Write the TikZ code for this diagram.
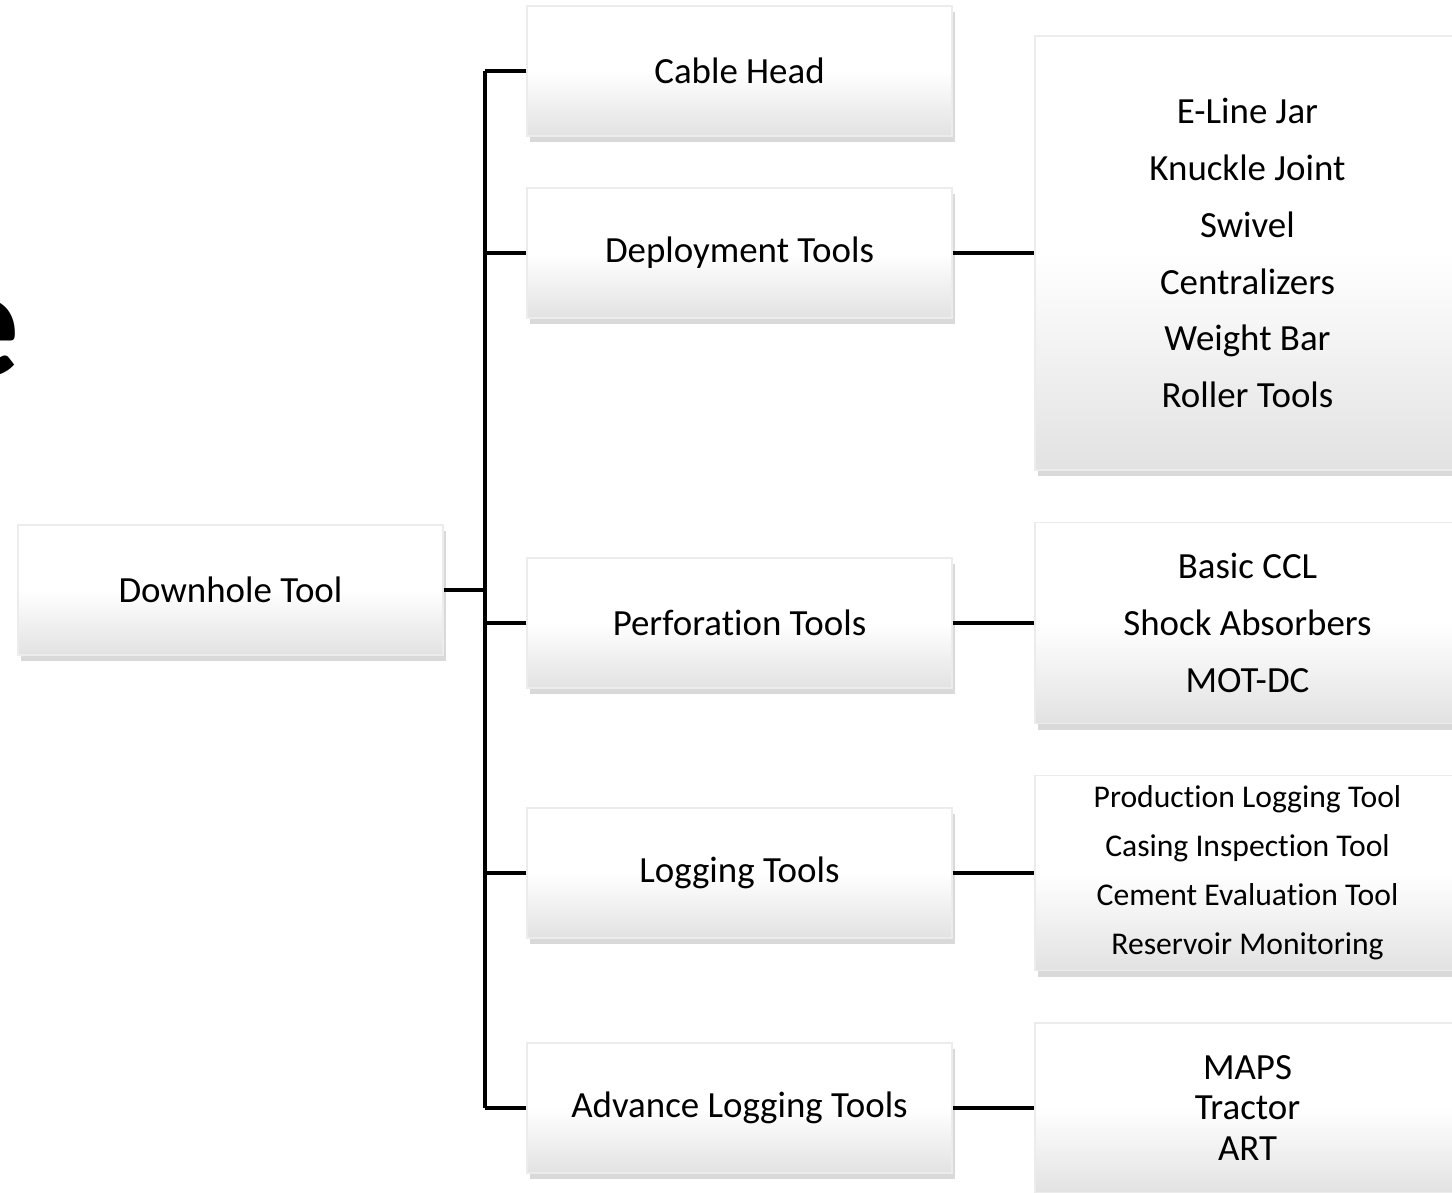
\documentclass[tikz,border=0pt]{standalone}
\usepackage{fontspec}
\setmainfont{Carlito}[Ligatures=NoCommon, Contextuals=NoAlternate]
\usetikzlibrary{shadows, positioning}
\definecolor{boxlow}{RGB}{226, 226, 226}
\definecolor{boxedge}{RGB}{236, 236, 236}
\definecolor{link}{RGB}{0, 0, 0}

\begin{document}
\begin{tikzpicture}[
    box/.style={rectangle, minimum width=4.25cm, minimum height=1.3cm, inner sep=0pt,
      draw=boxedge, top color=white, bottom color=boxlow, middle color=white, align=center,
      drop shadow={shadow xshift=0.03cm, shadow yshift=-0.06cm, opacity=0.3},
      font=\fontsize{10.5}{16.2}\selectfont},
    small/.style={font=\fontsize{9}{13.9}\selectfont},
    wire/.style={draw=link, line width=0.9pt}]

  \useasboundingbox (0, 0) rectangle (14.52, -11.92);
  \clip (0, 0) rectangle (14.52, -11.92);

  % left edge of the slide title
  \node[anchor=base east, inner sep=0pt, font=\bfseries\fontsize{45}{45}\selectfont]
    (title) at (0.21, -3.76) {e};

  \node[box] (downhole) at (2.305, -5.90) {Downhole Tool};

  \node[box] (cable)   at (7.395, -0.71) {Cable Head};
  \node[box] (deploy)  at (7.395, -2.53) {Deployment Tools};
  \node[box] (perf)    at (7.395, -6.23) {Perforation Tools};
  \node[box] (logging) at (7.395, -8.73) {Logging Tools};
  \node[box] (advance) at (7.395, -11.08) {Advance Logging Tools};

  \node[box, minimum height=4.34cm] (deploylist) at (12.475, -2.53)
    {E-Line Jar\\Knuckle Joint\\Swivel\\Centralizers\\Weight Bar\\Roller Tools};
  \node[box, minimum height=2.01cm] (perflist) at (12.475, -6.23)
    {Basic CCL\\Shock Absorbers\\MOT-DC};
  \node[box, small, minimum height=1.95cm] (logginglist) at (12.475, -8.73)
    {Production Logging Tool\\Casing Inspection Tool\\Cement Evaluation Tool\\Reservoir Monitoring};
  \node[box, minimum height=1.70cm, font=\fontsize{10.5}{11.6}\selectfont] (advancelist) at (12.475, -11.08)
    {MAPS\\Tractor\\ART};

  % tree
  \coordinate (top) at (4.85, -0.71);
  \coordinate (bot) at (4.85, -11.08);
  \draw[wire] (top) -- (bot);
  \draw[wire] (downhole.east) -- (downhole.east -| top);
  \foreach \n in {cable, deploy, perf, logging, advance}
    \draw[wire] (\n.west) -- (\n.west -| top);

  \foreach \n in {deploy, perf, logging, advance}
    \draw[wire] (\n.east) -- (\n list.west);

\end{tikzpicture}
\end{document}
